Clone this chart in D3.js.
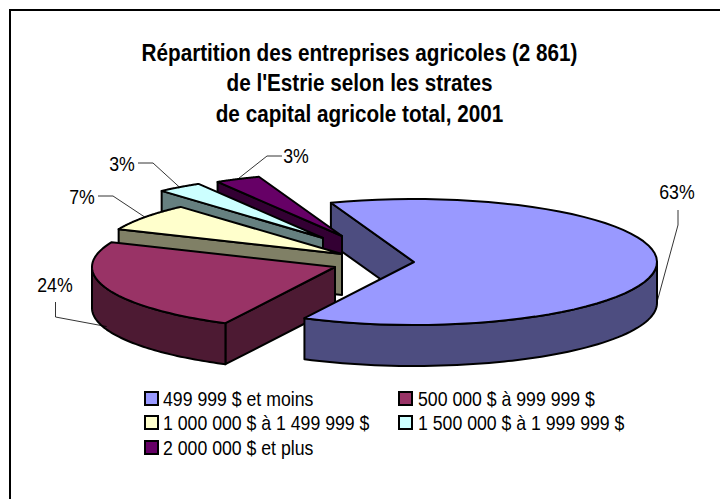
<!DOCTYPE html>
<html><head><meta charset="utf-8">
<script src="https://cdn.jsdelivr.net/npm/d3@7"></script>
<style>html,body{margin:0;padding:0;background:#fff}svg{display:block}text{font-family:"Liberation Sans",Arial,sans-serif;fill:#000}</style>
</head><body><div id="chart"></div>
<script>
const categories = ["499 999 $ et moins","500 000 $ à 999 999 $","1 000 000 $ à 1 499 999 $","1 500 000 $ à 1 999 999 $","2 000 000 $ et plus"];
const values = [63,24,7,3,3];
const titleLines = ["Répartition des entreprises agricoles (2 861)","de l'Estrie selon les strates","de capital agricole total, 2001"];

// layout only
const W=720,H=499,rx=243,ry=63,depth=41;
const topColors=["#9999FF","#993366","#FFFFCC","#CCFFFF","#660066"];
const wallColors=["#4D4D80","#4D1A33","#808066","#668080","#330033"];
const centers=[[414,262],[335,267],[342,254],[323,238],[342,236]];
const labelPos=[[677,191],[55,284],[82,196],[122,163],[296,155]];
const elbows=[[[678,225],[678,210]],[[55.5,317],[55.5,302]],[[113,196],[98,196]],[[153,163],[138,163]],[[267,156],[282,156]]];
const legendPos=[[145,392],[399,392],[145,416],[399,416],[145,441]];
const legendTextX=[163,418,163,418,163];

const svg=d3.select("#chart").append("svg").attr("width",W).attr("height",H);
svg.append("path").attr("d","M10,499V10H720").attr("fill","none").attr("stroke","#000").attr("stroke-width",2);

// horizontally condensed text, as in the reference
const put=(x,y,t,size,sx,anchor,bold)=>svg.append("text")
  .attr("transform",`translate(${x},${y}) scale(${sx},1)`)
  .attr("text-anchor",anchor).attr("font-weight",bold?"bold":"normal").attr("font-size",size).text(t);

titleLines.forEach((t,i)=>put(359.5,60.5+i*30.7,t,23,0.9,"middle",true));

const pie=d3.pie().sort(null).startAngle(-20*Math.PI/180).endAngle(340*Math.PI/180);
const arcs=pie(values);
const pt=(c,a,dz=0)=>[c[0]+rx*Math.sin(a),c[1]-ry*Math.cos(a)+dz];
const line=d3.line();
const rim=(c,a0,a1,dz=0)=>d3.range(0,61).map(i=>pt(c,a0+(a1-a0)*i/60,dz));
const drawPoly=(pts,fill)=>svg.append("path").attr("d",line(pts)+"Z").attr("fill",fill).attr("stroke","#000").attr("stroke-width",2).attr("stroke-linejoin","round");
const drawTop=i=>drawPoly([centers[i],...rim(centers[i],arcs[i].startAngle,arcs[i].endAngle)],topColors[i]);
const cutWall=(i,a)=>{const c=centers[i],p=pt(c,a);drawPoly([p,c,[c[0],c[1]+depth],[p[0],p[1]+depth]],wallColors[i]);};
const outerWall=(i,a0,a1)=>{const c=centers[i];drawPoly([...rim(c,a0,a1),...rim(c,a1,a0,depth)],wallColors[i]);};

// blue inner cut wall first, back slices over it, then the rest
cutWall(0,arcs[0].startAngle);
[4,3,2].forEach(i=>{cutWall(i,arcs[i].startAngle);drawTop(i);});
cutWall(1,arcs[1].startAngle);
outerWall(1,arcs[1].startAngle,3*Math.PI/2);
drawTop(1);
outerWall(0,Math.PI/2,arcs[0].endAngle);
drawTop(0);

// leader lines and labels
arcs.forEach((d,i)=>{
  const mid=(d.startAngle+d.endAngle)/2, dz=i<2?depth-3:0;
  const s=pt(centers[i],mid,dz);
  svg.append("path").attr("d",line([s,...elbows[i]])).attr("fill","none").attr("stroke","#000").attr("stroke-width",0.8);
  put(labelPos[i][0],labelPos[i][1]+7.5,d3.format(".0f")(d.value)+"%",20.5,0.865,"middle",false);
});

// legend
categories.forEach((c,i)=>{
  const [x,y]=legendPos[i];
  svg.append("rect").attr("x",x).attr("y",y).attr("width",13).attr("height",13).attr("fill",topColors[i]).attr("stroke","#000").attr("stroke-width",2);
  put(legendTextX[i],y+14,c,20.5,0.863,"start",false);
});
</script></body></html>
